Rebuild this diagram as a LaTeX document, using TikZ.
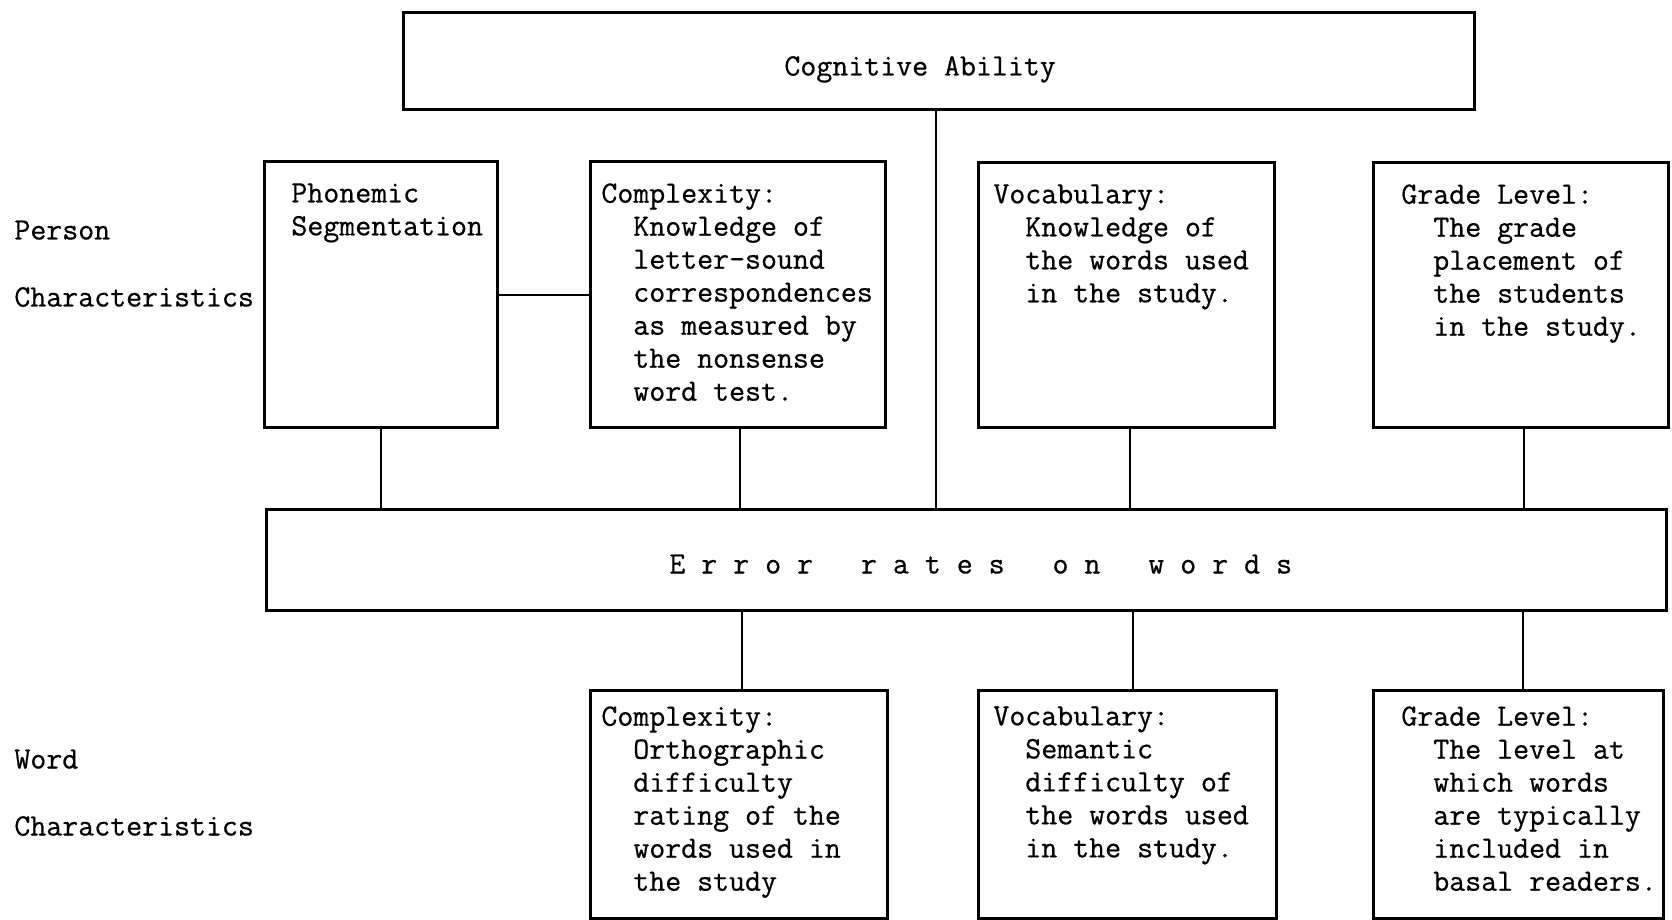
\documentclass[tikz,border=0pt]{standalone}
\usepackage{fontspec}
\newfontfamily\twfont{Latin Modern Mono}[FakeBold=0.6]
\newcommand\myind{\phantom{xx}}
\tikzset{
  box/.style={draw, line width=1.5pt, inner sep=0pt, rectangle},
  conn/.style={line width=1pt},
  txt/.style={font=\twfont\fontsize{15.5}{16.5}\selectfont, align=left, anchor=north west, inner sep=0pt, execute at begin node=\strut},
}
\begin{document}
\begin{tikzpicture}[x=0.5pt,y=-0.5pt]
\useasboundingbox (0,0) rectangle (1672,920);
% boxes
\node[box, minimum width=535.5pt, minimum height=48.5pt] (ca) at (938.5,61.5) {};
\node[box, minimum width=116.5pt, minimum height=132.5pt] (ph) at (380.5,294.5) {};
\node[box, minimum width=147.5pt, minimum height=132.5pt] (cp) at (737.5,294.5) {};
\node[box, minimum width=148pt, minimum height=132pt] (vt) at (1126,295) {};
\node[box, minimum width=147.5pt, minimum height=132pt] (gt) at (1520.5,295) {};
\node[box, minimum width=700pt, minimum height=50.5pt] (er) at (966,559.5) {};
\node[box, minimum width=148.5pt, minimum height=114pt] (cb) at (738.5,804) {};
\node[box, minimum width=149pt, minimum height=114pt] (vb) at (1127,804) {};
\node[box, minimum width=145pt, minimum height=114pt] (gb) at (1518,804) {};
% connectors
\draw[conn] ([xshift=-1.5pt]ca.south) -- ([xshift=-1.5pt]ca.south |- er.north);
\draw[conn] (ph.east) -- (cp.west);
\draw[conn] (ph.south) -- (ph.south |- er.north);
\draw[conn] ([xshift=1pt]cp.south) -- ([xshift=1pt]cp.south |- er.north);
\draw[conn] ([xshift=2pt]vt.south) -- ([xshift=2pt]vt.south |- er.north);
\draw[conn] ([xshift=1.5pt]gt.south) -- ([xshift=1.5pt]gt.south |- er.north);
\draw[conn] ([xshift=1.5pt]cb.north |- er.south) -- ([xshift=1.5pt]cb.north);
\draw[conn] ([xshift=3pt]vb.north |- er.south) -- ([xshift=3pt]vb.north);
\draw[conn] ([xshift=2.5pt]gb.north |- er.south) -- ([xshift=2.5pt]gb.north);
% texts
\node[txt] (tca) at (784,52) {Cognitive Ability};
\node[txt] (ter) at (669,550) {E~r~r~o~r~~~r~a~t~e~s~~~o~n~~~w~o~r~d~s};
\node[txt] (tp1) at (14,216) {Person};
\node[txt] (tp2) at (14,283) {Characteristics};
\node[txt] (tw1) at (14,745) {Word};
\node[txt] (tw2) at (14,812) {Characteristics};
\node[txt] (tph) at (291,183) {Phonemic\\Segmentation};
\node[txt] (tcp) at (601,183) {Complexity:\\\myind Knowledge of\\\myind letter-sound\\\myind correspondences\\\myind as measured by\\\myind the nonsense\\\myind word test.};
\node[txt] (tvt) at (993,184) {Vocabulary:\\\myind Knowledge of\\\myind the words used\\\myind in the study.};
\node[txt] (tgt) at (1401,184) {Grade Level:\\\myind The grade\\\myind placement of\\\myind the students\\\myind in the study.};
\node[txt] (tcb) at (601,706) {Complexity:\\\myind Orthographic\\\myind difficulty\\\myind rating of the\\\myind words used in\\\myind the study};
\node[txt] (tvb) at (993,706) {Vocabulary:\\\myind Semantic\\\myind difficulty of\\\myind the words used\\\myind in the study.};
\node[txt] (tgb) at (1401,706) {Grade Level:\\\myind The level at\\\myind which words\\\myind are typically\\\myind included in\\\myind basal readers.};
\end{tikzpicture}
\end{document}
